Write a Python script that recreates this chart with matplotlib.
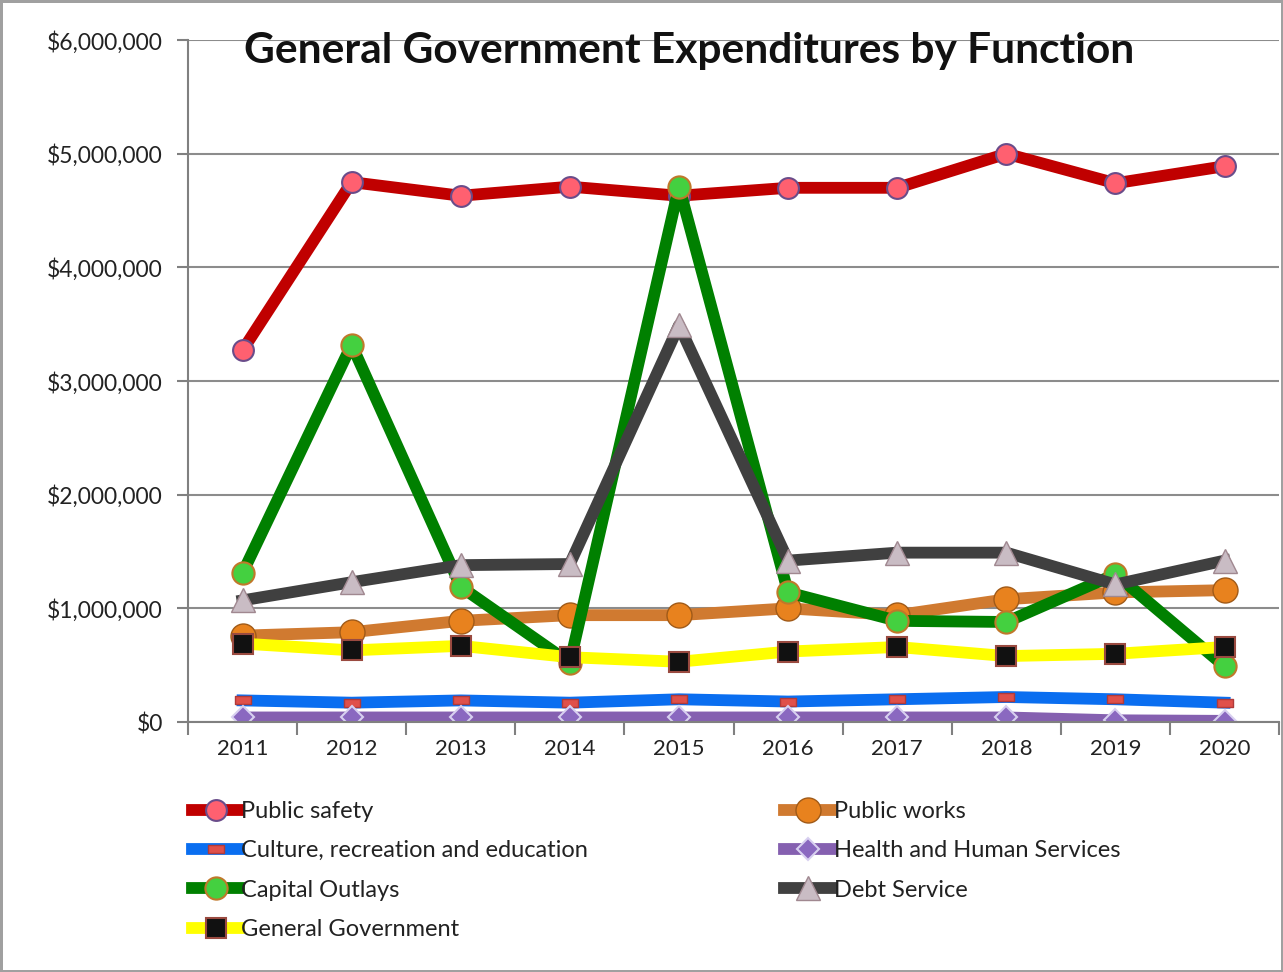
import matplotlib.pyplot as plt
from matplotlib.path import Path

plt.rcParams['font.family'] = ['Lato', 'DejaVu Sans']

# values
years = ['2011', '2012', '2013', '2014', '2015', '2016', '2017', '2018', '2019', '2020']
public_safety = [3270000, 4750000, 4630000, 4710000, 4630000, 4700000, 4700000, 5000000, 4740000, 4890000]
public_works = [760000, 790000, 890000, 940000, 940000, 1000000, 940000, 1080000, 1140000, 1160000]
culture = [190000, 170000, 190000, 170000, 200000, 180000, 200000, 220000, 200000, 170000]
health = [40000, 40000, 40000, 40000, 40000, 40000, 40000, 40000, 15000, 10000]
capital = [1310000, 3320000, 1190000, 520000, 4710000, 1140000, 890000, 880000, 1300000, 490000]
debt = [1070000, 1230000, 1380000, 1390000, 3490000, 1420000, 1490000, 1490000, 1210000, 1420000]
general_gov = [690000, 630000, 670000, 570000, 530000, 620000, 660000, 580000, 600000, 660000]

rect = Path([(-1, -0.5), (1, -0.5), (1, 0.5), (-1, 0.5), (-1, -0.5)],
            [Path.MOVETO, Path.LINETO, Path.LINETO, Path.LINETO, Path.CLOSEPOLY])

fig = plt.figure(figsize=(12.83, 9.72), dpi=100, edgecolor='#a0a0a0', linewidth=2.5)
ax = fig.add_axes([0.1465, 0.2572, 0.8505, 0.7016])

x = list(range(len(years)))
lw = 8.5
h_ps, = ax.plot(x, public_safety, color='#c00000', lw=lw, marker='o', ms=15,
                mfc='#ff6070', mec='#6a4c8a', mew=1.5, label='Public safety')
h_pw, = ax.plot(x, public_works, color='#d07a30', lw=lw, marker='o', ms=18,
                mfc='#e8821e', mec='#a05a18', mew=1, label='Public works')
h_cu, = ax.plot(x, culture, color='#0a6ef0', lw=lw, marker=rect, ms=11,
                mfc='#e0504a', mec='#b03a3a', mew=1, label='Culture, recreation and education')
h_he, = ax.plot(x, health, color='#8560b0', lw=lw, marker='D', ms=11,
                mfc='#8a68c0', mec='#d8d0f0', mew=1.5, label='Health and Human Services')
h_ca, = ax.plot(x, capital, color='#008000', lw=lw, marker='o', ms=16,
                mfc='#44d040', mec='#c0782a', mew=1.5, label='Capital Outlays')
h_de, = ax.plot(x, debt, color='#404040', lw=lw, marker='^', ms=17,
                mfc='#c9bcc4', mec='#a08890', mew=1, label='Debt Service')
h_gg, = ax.plot(x, general_gov, color='#ffff00', lw=lw, marker='s', ms=14,
                mfc='#111111', mec='#9a4a40', mew=1.5, label='General Government')

ax.set_xlim(-0.5, len(years) - 0.5)
ax.set_ylim(0, 6000000)
ax.set_yticks(range(0, 6000001, 1000000))
ax.set_yticklabels(['${:,}'.format(v) for v in range(0, 6000001, 1000000)])
ax.set_xticks(x)
ax.set_xticklabels(years)
ax.set_xticks([i - 0.5 for i in range(len(years) + 1)], minor=True)
ax.tick_params(axis='x', which='major', length=0, pad=12, labelsize=16, colors='#222222')
ax.tick_params(axis='x', which='minor', length=9, width=1.5, color='#808080', direction='out')
ax.tick_params(axis='y', length=8, width=1.5, color='#808080', pad=10, labelsize=16.5, labelcolor='#222222')
ax.grid(axis='y', color='#8c8c8c', lw=1.5)
ax.set_axisbelow(True)
for s in ['top', 'right']:
    ax.spines[s].set_visible(False)
for s in ['left', 'bottom']:
    ax.spines[s].set_color('#808080')
    ax.spines[s].set_linewidth(1.5)

fig.text(0.537, 0.948, 'General Government Expenditures by Function',
         ha='center', va='center', fontsize=30.5, fontweight='bold', color='#111111')

handles = [h_ps, h_cu, h_ca, h_gg, h_pw, h_he, h_de]
fig.legend(handles=handles, labels=[h.get_label() for h in handles], ncol=2,
           loc='upper left', bbox_to_anchor=(0.133, 0.198), frameon=False,
           fontsize=17, handlelength=2.0, handletextpad=0.1, columnspacing=8.3,
           labelspacing=0.78, labelcolor='#222222')

fig.savefig('out.png', dpi=100)
